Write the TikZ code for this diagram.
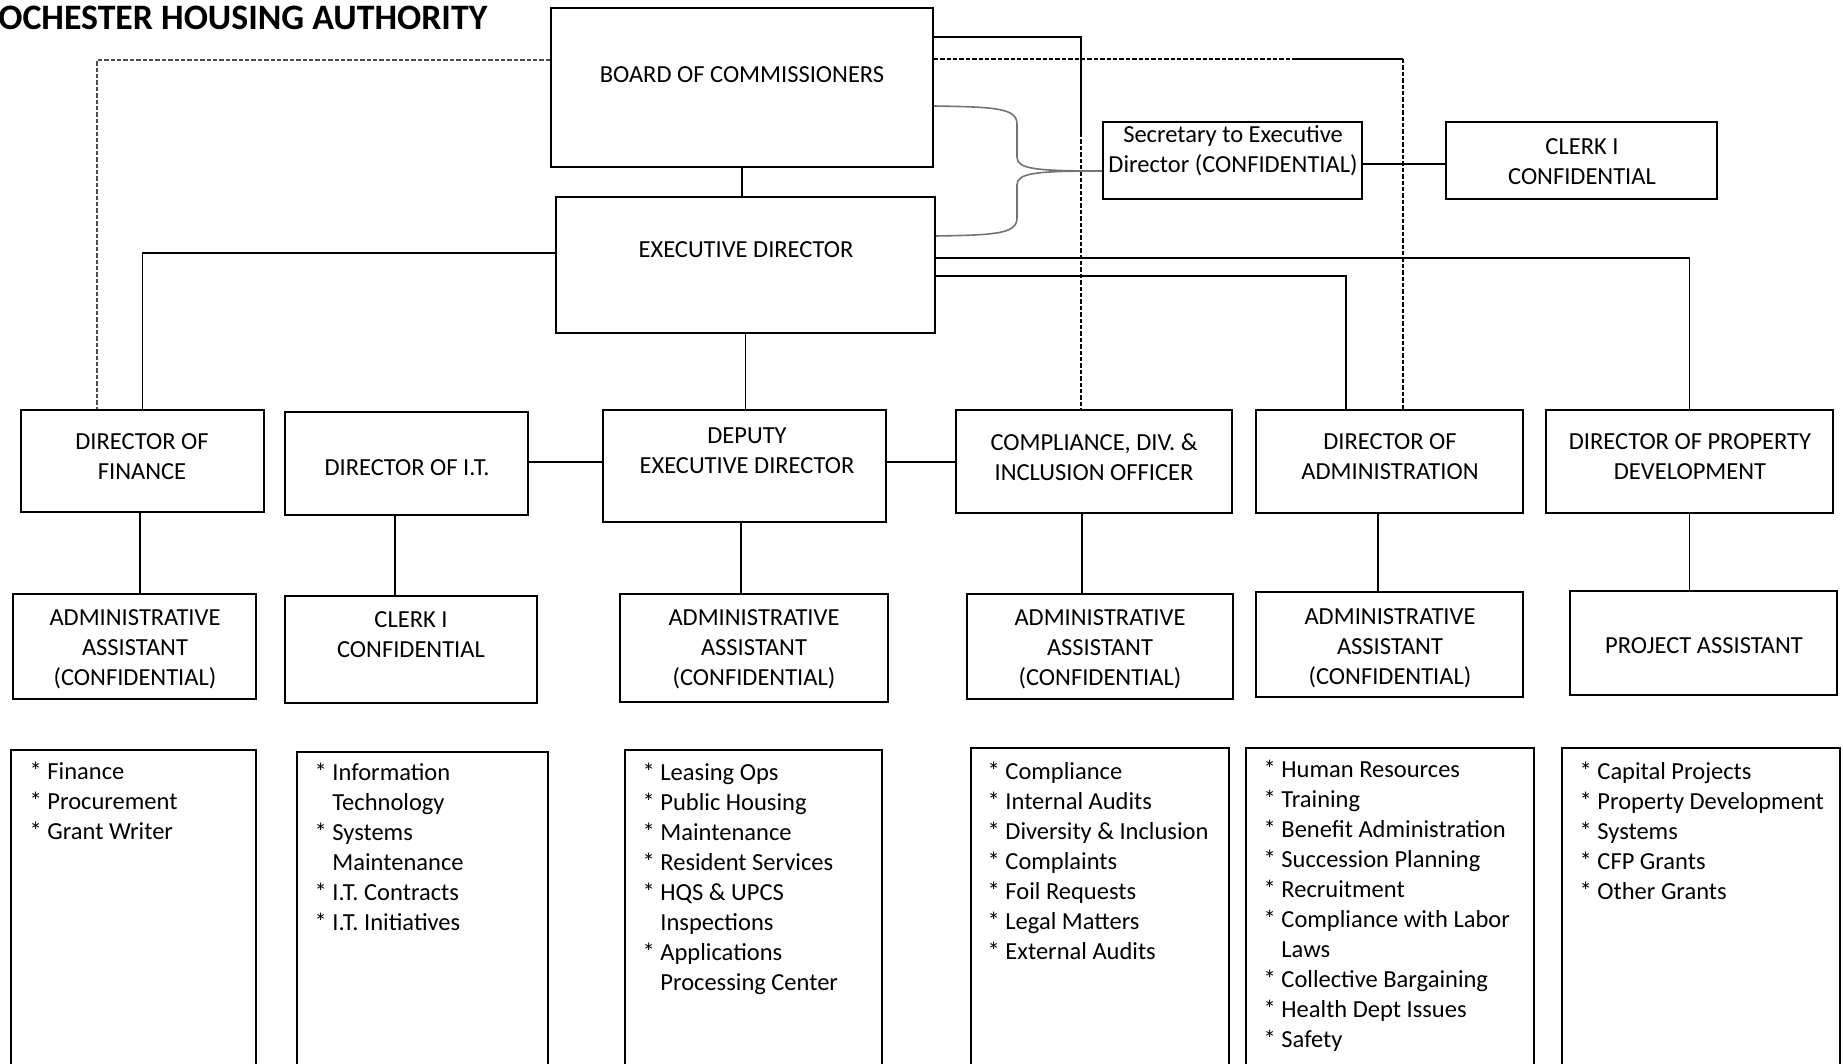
\documentclass[tikz,border=0pt]{standalone}
\usepackage{fontspec}
\setmainfont{Carlito}
\usetikzlibrary{fit}

\newcommand{\itm}{*\ }
\newcommand{\ind}{\hphantom{*\ }}

\begin{document}
\begin{tikzpicture}[x=0.5pt,y=-0.5pt,line width=0.7pt,
    box/.style={draw,line width=0.85pt,inner sep=0pt},
    lbl/.style={align=center,inner sep=0pt,anchor=north,
      font=\fontsize{12.25}{15}\selectfont,execute at begin node=\strut},
    duties/.style={align=left,inner sep=0pt,anchor=north west,
      font=\fontsize{12.25}{15}\selectfont,execute at begin node=\strut},
    dotted line/.style={dash pattern=on 2.2pt off 1pt},
    elbow/.style={draw=black!55,line width=0.8pt}]
\useasboundingbox (0,0) rectangle (1843,1064);

\node[font=\bfseries\fontsize{17.9}{21}\selectfont,anchor=east,inner sep=0pt]
  (title) at (488,17.5) {ROCHESTER HOUSING AUTHORITY};

% top of the chart
\node[box,fit={(551,8) (933,167)}] (board) {};
\node[box,fit={(556,197) (935,333)}] (exec) {};
\node[box,fit={(1103,122) (1362,199)}] (sec) {};
\node[box,fit={(1446,122) (1717,199)}] (clerkc) {};

% directors
\node[box,fit={(21,410) (264,512)}] (fin) {};
\node[box,fit={(285,412) (528,515)}] (it) {};
\node[box,fit={(603,410) (886,522)}] (dep) {};
\node[box,fit={(956,410) (1232,513)}] (comp) {};
\node[box,fit={(1256,410) (1523,513)}] (admdir) {};
\node[box,fit={(1546,410) (1833,513)}] (prop) {};

% assistants
\node[box,fit={(13,594) (256,699)}] (adm1) {};
\node[box,fit={(285,596) (537,703)}] (clerk2) {};
\node[box,fit={(620,594) (888,702)}] (adm3) {};
\node[box,fit={(967,594) (1233,699)}] (adm4) {};
\node[box,fit={(1256,592) (1523,697)}] (adm5) {};
\node[box,fit={(1570,591) (1837,695)}] (proj) {};

% duties
\node[box,fit={(11,750) (256,1090)}] (dfin) {};
\node[box,fit={(297,752) (548,1090)}] (dit) {};
\node[box,fit={(625,750) (882,1090)}] (ddep) {};
\node[box,fit={(971,748) (1229,1090)}] (dcomp) {};
\node[box,fit={(1246,748) (1534,1090)}] (dadm) {};
\node[box,fit={(1562,748) (1840,1090)}] (dprop) {};

% texts
\node[lbl] (board-t) at (742,61) {BOARD OF COMMISSIONERS};
\node[lbl] (exec-t) at (746,236) {EXECUTIVE DIRECTOR};
\node[lbl] (sec-t) at (1233,125) {Secretary to Executive\\Director (CONFIDENTIAL)};
\node[lbl] (clerkc-t) at (1582,138) {CLERK I\\CONFIDENTIAL};
\node[lbl] (fin-t) at (142,433) {DIRECTOR OF\\FINANCE};
\node[lbl] (it-t) at (407,454) {DIRECTOR OF I.T.};
\node[lbl] (dep-t) at (747,427) {DEPUTY\\EXECUTIVE DIRECTOR};
\node[lbl] (comp-t) at (1094,433) {COMPLIANCE, DIV. \&\\INCLUSION OFFICER};
\node[lbl] (admdir-t) at (1390,433) {DIRECTOR OF\\ADMINISTRATION};
\node[lbl] (prop-t) at (1690,433) {DIRECTOR OF PROPERTY\\DEVELOPMENT};
\node[lbl] (adm1-t) at (135,609) {ADMINISTRATIVE\\ASSISTANT\\(CONFIDENTIAL)};
\node[lbl] (clerk2-t) at (411,611) {CLERK I\\CONFIDENTIAL};
\node[lbl] (adm3-t) at (754,609) {ADMINISTRATIVE\\ASSISTANT\\(CONFIDENTIAL)};
\node[lbl] (adm4-t) at (1100,609) {ADMINISTRATIVE\\ASSISTANT\\(CONFIDENTIAL)};
\node[lbl] (adm5-t) at (1390,608) {ADMINISTRATIVE\\ASSISTANT\\(CONFIDENTIAL)};
\node[lbl] (proj-t) at (1704,632) {PROJECT ASSISTANT};

\node[duties] (dfin-t) at (29,761.5) {\itm Finance\\\itm Procurement\\\itm Grant Writer};
\node[duties] (dit-t) at (314,762.5) {\itm Information\\\ind Technology\\\itm Systems\\
  \ind Maintenance\\\itm I.T. Contracts\\\itm I.T. Initiatives};
\node[duties] (ddep-t) at (642,762.5) {\itm Leasing Ops\\\itm Public Housing\\\itm Maintenance\\
  \itm Resident Services\\\itm HQS \& UPCS\\\ind Inspections\\\itm Applications\\
  \ind Processing Center};
\node[duties] (dcomp-t) at (987,761.5) {\itm Compliance\\\itm Internal Audits\\
  \itm Diversity \& Inclusion\\\itm Complaints\\\itm Foil Requests\\\itm Legal Matters\\
  \itm External Audits};
\node[duties] (dadm-t) at (1263,759.5) {\itm Human Resources\\\itm Training\\
  \itm Benefit Administration\\\itm Succession Planning\\\itm Recruitment\\
  \itm Compliance with Labor\\\ind Laws\\\itm Collective Bargaining\\
  \itm Health Dept Issues\\\itm Safety};
\node[duties] (dprop-t) at (1579,761.5) {\itm Capital Projects\\\itm Property Development\\
  \itm Systems\\\itm CFP Grants\\\itm Other Grants};

% connectors
\draw (board.south) -- (board.south |- exec.north);
\draw (exec.south) -- (exec.south |- dep.north);
\draw (exec.west |- 0,253) -| (fin.north);
\draw[dotted line,black!70] (board.west |- 0,60) -| (fin.north -| 97,0);
\draw (exec.east |- 0,258) -| (prop.north);
\draw (exec.east |- 0,276) -| (admdir.north -| 1346,0);

\coordinate (brk) at (1081,133);
\draw (board.east |- 0,37) -| (brk);
\draw[dotted line] (brk) -- (comp.north -| brk);
\coordinate (dsh) at (1295,59);
\coordinate (dshc) at (1403,59);
\draw[dotted line] (board.east |- dsh) -- (dsh);
\draw (dsh) -- (dshc);
\draw[dotted line] (dshc) -- (admdir.north -| dshc);

\draw[elbow] (board.east |- 0,106) .. controls (995,107) and (1017,108) .. (1017,124)
  -- (1017,157) .. controls (1017,169) and (1035,171) .. (sec.west |- 0,171);
\draw[elbow] (exec.east |- 0,236) .. controls (995,235) and (1017,234) .. (1017,218)
  -- (1017,185) .. controls (1017,173) and (1035,171) .. (sec.west |- 0,171);
\draw (sec.east |- 0,164) -- (clerkc.west |- 0,164);

\draw (it.east |- 0,462) -- (dep.west |- 0,462);
\draw (dep.east |- 0,462) -- (comp.west |- 0,462);

\draw (fin.south -| 140,0) -- (adm1.north -| 140,0);
\draw (it.south -| 395,0) -- (clerk2.north -| 395,0);
\draw (dep.south -| 741,0) -- (adm3.north -| 741,0);
\draw (comp.south -| 1082,0) -- (adm4.north -| 1082,0);
\draw (admdir.south -| 1378,0) -- (adm5.north -| 1378,0);
\draw (prop.south) -- (prop.south |- proj.north);

\end{tikzpicture}
\end{document}
